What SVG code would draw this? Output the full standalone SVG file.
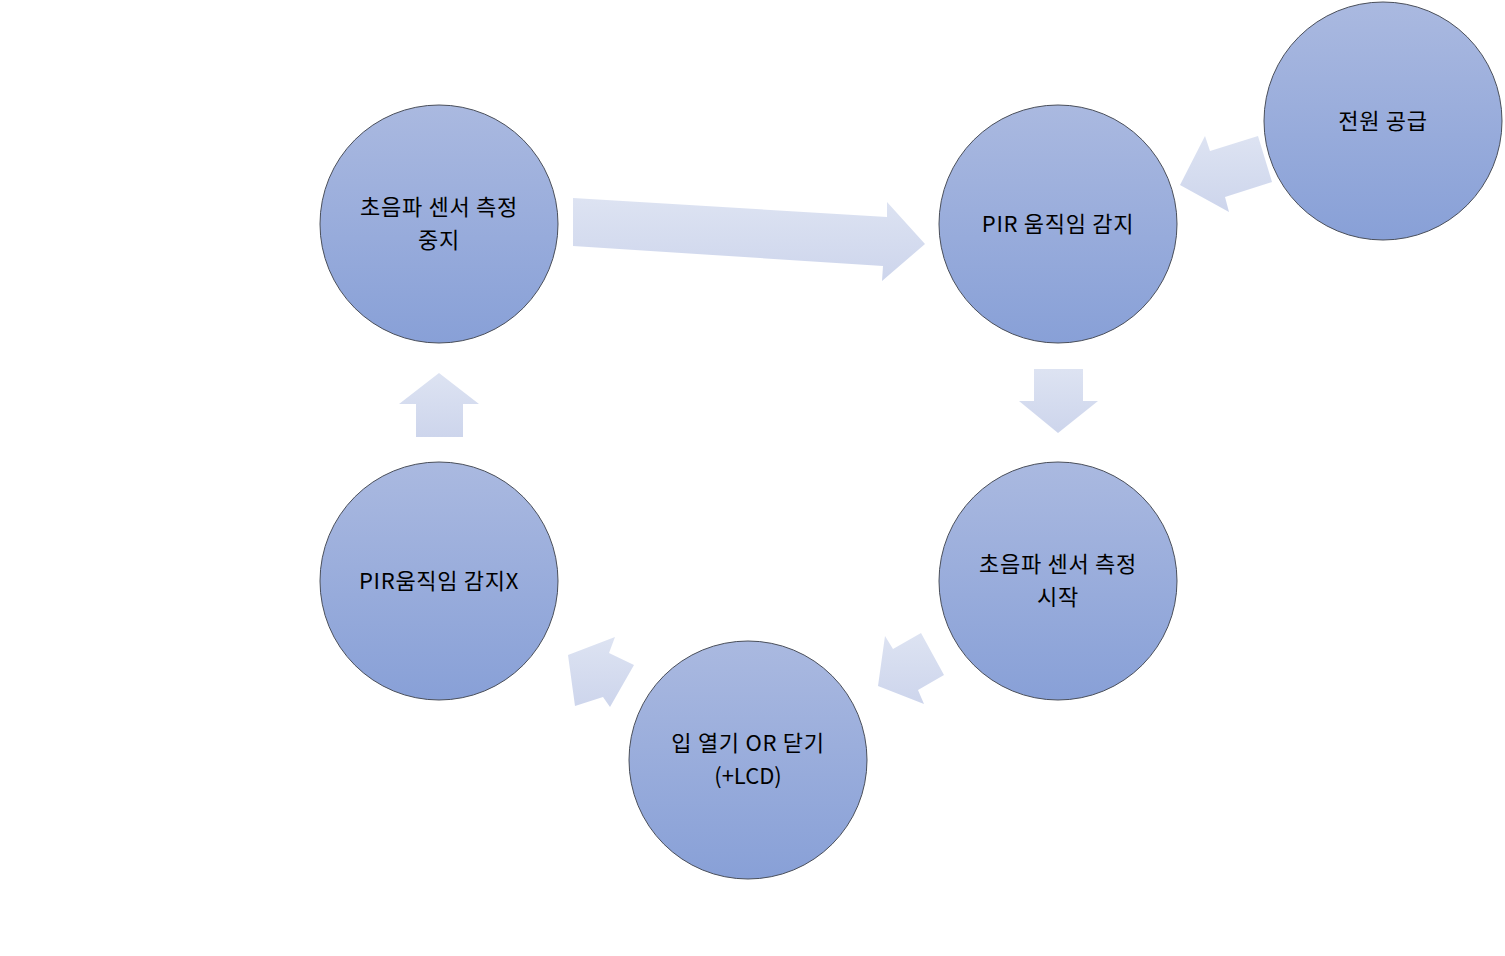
<svg xmlns="http://www.w3.org/2000/svg" width="1505" height="956" viewBox="0 0 1505 956">
<defs>
<linearGradient id="cg" x1="0" y1="0" x2="0" y2="1">
<stop offset="0" stop-color="#AAB9E0"/>
<stop offset="1" stop-color="#88A0D7"/>
</linearGradient>
<linearGradient id="ag" x1="0" y1="0" x2="0" y2="1">
<stop offset="0" stop-color="#DDE3F2"/>
<stop offset="1" stop-color="#CDD5EC"/>
</linearGradient>
</defs>
<style>
.n circle{fill:url(#cg);stroke:#4a4f5a;stroke-width:1}
.n text{font-family:"Noto Sans CJK KR","Noto Sans",sans-serif;font-size:22px;fill:#000;text-anchor:middle;letter-spacing:0.7px}
.n text.l{letter-spacing:0}
.a polygon{fill:url(#ag);stroke:none}
</style>
<rect width="1505" height="956" fill="#fff"/>
<g id="connectors" class="a">
<polygon points="573,198 887,217 887,202 925,244 882,281 883,266 573,246"/>
<polygon points="1258,136 1272,182 1225,197 1229,212 1180,185 1205,136 1210,151"/>
<polygon points="1034,369 1083,369 1083,401 1098,401 1058,433 1019,401 1034,401"/>
<polygon points="439,373 479,404 463,404 463,437 416,437 416,404 399,404"/>
<polygon points="878,686 885,636 893,649 921,633 944,675 918,690 924,704"/>
<polygon points="568,655 615,637 609,653 634,665 610,707 603,697 575,706"/>
</g>
<g id="n-stop" class="n">
<circle cx="439" cy="224" r="119"/>
<text x="439" y="215">초음파 센서 측정</text>
<text x="439" y="248">중지</text>
</g>
<g id="n-pir" class="n">
<circle cx="1058" cy="224" r="119"/>
<text x="1058" y="232">PIR 움직임 감지</text>
</g>
<g id="n-power" class="n">
<circle cx="1383" cy="121" r="119"/>
<text x="1383" y="129">전원 공급</text>
</g>
<g id="n-start" class="n">
<circle cx="1058" cy="581" r="119"/>
<text x="1058" y="572">초음파 센서 측정</text>
<text x="1058" y="605">시작</text>
</g>
<g id="n-mouth" class="n">
<circle cx="748" cy="760" r="119"/>
<text x="748" y="751">입 열기 OR 닫기</text>
<text class="l" x="748" y="784">(+LCD)</text>
</g>
<g id="n-nopir" class="n">
<circle cx="439" cy="581" r="119"/>
<text x="439" y="589">PIR움직임 감지X</text>
</g>
</svg>
